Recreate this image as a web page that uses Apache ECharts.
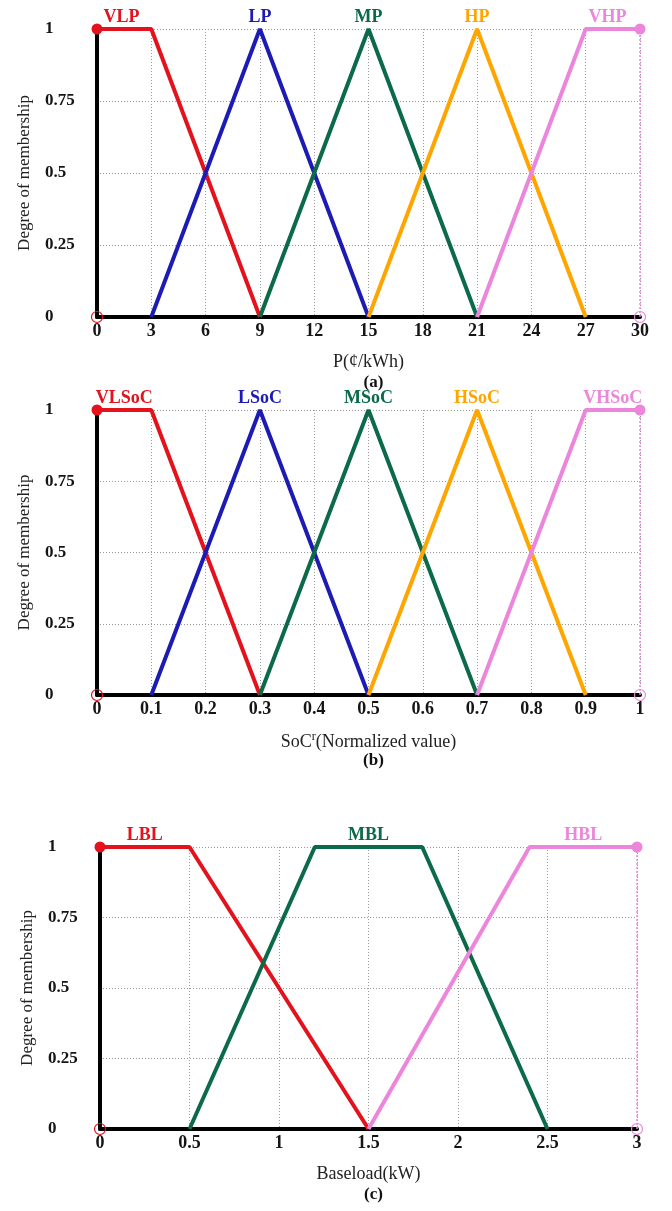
<!DOCTYPE html>
<html>
<head>
<meta charset="utf-8">
<script src="https://cdn.jsdelivr.net/npm/echarts@6/dist/echarts.min.js"></script>
<style>
    html, body { margin: 0; padding: 0; background: #fff; }
    #chart { width: 672px; height: 1211px; }
</style>
</head>
<body>
<div id="chart"></div>
<script>
    // membership functions, as break points [x, degree]
    var priceNames = ['VLP', 'LP', 'MP', 'HP', 'VHP'];
    var priceSets = [
        [[0, 1], [3, 1], [9, 0]],
        [[3, 0], [9, 1], [15, 0]],
        [[9, 0], [15, 1], [21, 0]],
        [[15, 0], [21, 1], [27, 0]],
        [[21, 0], [27, 1], [30, 1]]
    ];
    var priceLabelX = [1.35, 9, 15, 21, 28.2];

    var socNames = ['VLSoC', 'LSoC', 'MSoC', 'HSoC', 'VHSoC'];
    var socSets = [
        [[0, 1], [0.1, 1], [0.3, 0]],
        [[0.1, 0], [0.3, 1], [0.5, 0]],
        [[0.3, 0], [0.5, 1], [0.7, 0]],
        [[0.5, 0], [0.7, 1], [0.9, 0]],
        [[0.7, 0], [0.9, 1], [1, 1]]
    ];
    var socLabelX = [0.05, 0.3, 0.5, 0.7, 0.95];

    var loadNames = ['LBL', 'MBL', 'HBL'];
    var loadSets = [
        [[0, 1], [0.5, 1], [1.5, 0]],
        [[0.5, 0], [1.2, 1], [1.8, 1], [2.5, 0]],
        [[1.5, 0], [2.4, 1], [3, 1]]
    ];
    var loadLabelX = [0.25, 1.5, 2.7];

    var yTicks = [0, 0.25, 0.5, 0.75, 1];

    var RED = '#e3121c', BLUE = '#1c1cb4', GREEN = '#0b6a47', ORANGE = '#ffa500', PINK = '#ec86dc';
    var panels = [
        {names: priceNames, sets: priceSets, labelX: priceLabelX, colors: [RED, BLUE, GREEN, ORANGE, PINK],
         min: 0, max: 30, step: 3, xName: 'P(¢/kWh)', tag: '(a)',
         grid: {left: 97, top: 29, width: 543, height: 288}},
        {names: socNames, sets: socSets, labelX: socLabelX, colors: [RED, BLUE, GREEN, ORANGE, PINK],
         min: 0, max: 1, step: 0.1, xName: 'SoC{sup|r}(Normalized value)', tag: '(b)',
         grid: {left: 97, top: 410, width: 543, height: 285}},
        {names: loadNames, sets: loadSets, labelX: loadLabelX, colors: [RED, GREEN, PINK],
         min: 0, max: 3, step: 0.5, xName: 'Baseload(kW)', tag: '(c)',
         grid: {left: 100, top: 847, width: 537, height: 282}}
    ];

    var serif = '"Liberation Serif", "DejaVu Serif", serif';
    var grids = [], xAxes = [], yAxes = [], series = [], titles = [];

    panels.forEach(function (p, i) {
        grids.push(p.grid);
        xAxes.push({
            gridIndex: i, type: 'value', min: p.min, max: p.max, interval: p.step,
            name: p.xName, nameLocation: 'middle', nameGap: 36,
            nameTextStyle: {fontFamily: serif, fontSize: 18, color: '#222',
                rich: {sup: {fontFamily: serif, fontSize: 12, color: '#222', verticalAlign: 'top', padding: [0, 0, 10, 0]}}},
            axisLine: {onZero: false, lineStyle: {color: '#000', width: 4}},
            axisTick: {show: false},
            axisLabel: {margin: 5, fontFamily: serif, fontSize: 18, fontWeight: 'bold', color: '#151515'},
            splitLine: {show: true, lineStyle: {color: '#9a9a9a', type: [1, 2], width: 1}}
        });
        yAxes.push({
            gridIndex: i, type: 'value', min: yTicks[0], max: yTicks[yTicks.length - 1], interval: yTicks[1] - yTicks[0],
            name: 'Degree of membership', nameLocation: 'middle', nameGap: 64,
            nameTextStyle: {fontFamily: serif, fontSize: 17, color: '#222'},
            axisLine: {onZero: false, lineStyle: {color: '#000', width: 4}},
            axisTick: {show: false},
            axisLabel: {margin: 52, align: 'left', fontFamily: serif, fontSize: 17, fontWeight: 'bold', color: '#151515'},
            splitLine: {show: true, lineStyle: {color: '#9a9a9a', type: [1, 2], width: 1}}
        });

        p.sets.forEach(function (pts, k) {
            series.push({
                name: p.names[k], type: 'line', xAxisIndex: i, yAxisIndex: i,
                data: pts, symbol: 'none', silent: true,
                lineStyle: {color: p.colors[k], width: 4}
            });
        });
        // right border of the last set drawn as a pink dotted line
        series.push({
            type: 'line', xAxisIndex: i, yAxisIndex: i, data: [], silent: true,
            markLine: {symbol: 'none', label: {show: false}, silent: true,
                lineStyle: {color: PINK, type: [2, 2], width: 1.5},
                data: [{xAxis: p.max}]}
        });
        // set names above the peaks
        series.push({
            type: 'scatter', xAxisIndex: i, yAxisIndex: i, symbolSize: 0, silent: true,
            itemStyle: {opacity: 1},
            data: p.labelX.map(function (x, k) {
                return {value: [x, 1], label: {color: p.colors[k]}, name: p.names[k]};
            }),
            label: {show: true, position: 'top', distance: 3, formatter: '{b}',
                fontFamily: serif, fontSize: 18, fontWeight: 'bold', opacity: 1}
        });
        // end markers
        var last = p.colors[p.colors.length - 1];
        series.push({
            type: 'scatter', xAxisIndex: i, yAxisIndex: i, silent: true, z: 5,
            itemStyle: {opacity: 1},
            data: [
                {value: [p.min, 1], symbolSize: 11, itemStyle: {color: RED}},
                {value: [p.max, 1], symbolSize: 11, itemStyle: {color: last}},
                {value: [p.min, 0], symbolSize: 11, itemStyle: {color: 'rgba(0,0,0,0)', borderColor: RED, borderWidth: 1.2}},
                {value: [p.max, 0], symbolSize: 11, itemStyle: {color: 'rgba(0,0,0,0)', borderColor: last, borderWidth: 1.2}}
            ]
        });
        titles.push({
            text: p.tag, left: p.grid.left + p.grid.width / 2, textAlign: 'center',
            top: p.grid.top + p.grid.height + 52,
            textStyle: {fontFamily: serif, fontSize: 17, fontWeight: 'bold', color: '#111'}
        });
    });

    var chart = echarts.init(document.getElementById('chart'));
    chart.setOption({
        backgroundColor: '#fff',
        animation: false,
        title: titles,
        grid: grids,
        xAxis: xAxes,
        yAxis: yAxes,
        series: series
    });
</script>
</body>
</html>
